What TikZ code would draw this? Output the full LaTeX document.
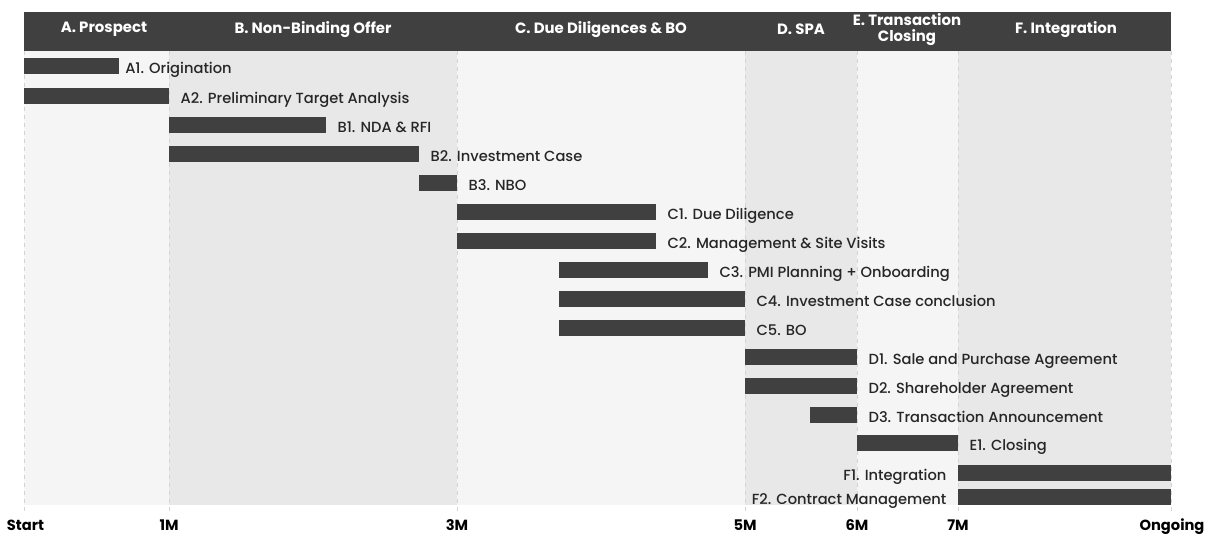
\documentclass[tikz,border=0pt]{standalone}
\usepackage{fontspec}
\setmainfont{Poppins}
\newfontfamily\taskfont{Poppins Medium}
\usepackage{tikz}
\usetikzlibrary{positioning}
\definecolor{bardark}{HTML}{404040}
\definecolor{colA}{HTML}{F5F5F5}
\definecolor{colB}{HTML}{E8E8E8}
\definecolor{gridline}{HTML}{D4D4D4}
\newcommand*\taskbar[4]{%
  \node[bar, minimum width={(#3-#2)*0.75pt}] (#1) at ({(#2+#3)/2},#4) {};}
\begin{document}
\begin{tikzpicture}[x=0.75pt,y=-0.75pt,node distance=8.5pt,
   bar/.style={fill=bardark, minimum height=12pt, inner sep=0pt, outer sep=0pt},
   task/.style={font=\taskfont\fontsize{11}{13}\selectfont, text=black!85, inner sep=0pt,
                text height=10.5pt, text depth=0pt},
   phase/.style={text=white, font=\bfseries\fontsize{11.2}{12.5}\selectfont, align=center, inner sep=0pt},
   tick/.style={font=\bfseries\fontsize{11}{12}\selectfont, inner sep=0pt, anchor=base}]
   \useasboundingbox (0,0) rectangle (1221,533);
   % columns
   \fill[colA] (24,51) rectangle (169,505);
   \fill[colB] (169,51) rectangle (457,505);
   \fill[colA] (457,51) rectangle (745,505);
   \fill[colB] (745,51) rectangle (857,505);
   \fill[colA] (857,51) rectangle (958,505);
   \fill[colB] (958,51) rectangle (1171,505);
   \foreach \x in {24,169,457,745,857,958,1171}
      \draw[gridline, dashed, very thin] (\x,51) -- (\x,512);
   % header
   \fill[bardark] (24,12) rectangle (1171,51);
   \node[phase] (ph_a) at (104,29.5) {A. Prospect};
   \node[phase] (ph_b) at (313,29.5) {B. Non-Binding Offer};
   \node[phase] (ph_c) at (601,29.5) {C. Due Diligences \& BO};
   \node[phase] (ph_d) at (801,29.5) {D. SPA};
   \node[phase] (ph_e) at (907,29.5) {E. Transaction\\Closing};
   \node[phase] (ph_f) at (1066,29.5) {F. Integration};
   % tasks
   \taskbar{a1}{24}{119}{66}
   \node[task, right=4.5pt of a1] (a1_t) {A1. Origination};
   \taskbar{a2}{24}{169}{96}
   \node[task, right=of a2] (a2_t) {A2. Preliminary Target Analysis};
   \taskbar{b1}{169}{326}{125}
   \node[task, right=of b1] (b1_t) {B1. NDA \& RFI};
   \taskbar{b2}{169}{419}{154}
   \node[task, right=of b2] (b2_t) {B2. Investment Case};
   \taskbar{b3}{419}{457}{183}
   \node[task, right=of b3] (b3_t) {B3. NBO};
   \taskbar{c1}{457}{656}{212}
   \node[task, right=of c1] (c1_t) {C1. Due Diligence};
   \taskbar{c2}{457}{656}{241}
   \node[task, right=of c2] (c2_t) {C2. Management \& Site Visits};
   \taskbar{c3}{559}{708}{270}
   \node[task, right=of c3] (c3_t) {C3. PMI Planning + Onboarding};
   \taskbar{c4}{559}{745}{299}
   \node[task, right=of c4] (c4_t) {C4. Investment Case conclusion};
   \taskbar{c5}{559}{745}{328}
   \node[task, right=of c5] (c5_t) {C5. BO};
   \taskbar{d1}{745}{857}{357}
   \node[task, right=of d1] (d1_t) {D1. Sale and Purchase Agreement};
   \taskbar{d2}{745}{857}{386}
   \node[task, right=of d2] (d2_t) {D2. Shareholder Agreement};
   \taskbar{d3}{810}{857}{415}
   \node[task, right=of d3] (d3_t) {D3. Transaction Announcement};
   \taskbar{e1}{857}{958}{443}
   \node[task, right=of e1] (e1_t) {E1. Closing};
   \taskbar{f1}{958}{1171}{473}
   \node[task, left=of f1] (f1_t) {F1. Integration};
   \taskbar{f2}{958}{1171}{497}
   \node[task, left=of f2] (f2_t) {F2. Contract Management};
   % time axis
   \node[tick] (t_start) at (25.5,530) {Start};
   \node[tick] (t_1m) at (169,530) {1M};
   \node[tick] (t_3m) at (457,530) {3M};
   \node[tick] (t_5m) at (745,530) {5M};
   \node[tick] (t_6m) at (857,530) {6M};
   \node[tick] (t_7m) at (958,530) {7M};
   \node[tick] (t_end) at (1172,530) {Ongoing};
\end{tikzpicture}
\end{document}
